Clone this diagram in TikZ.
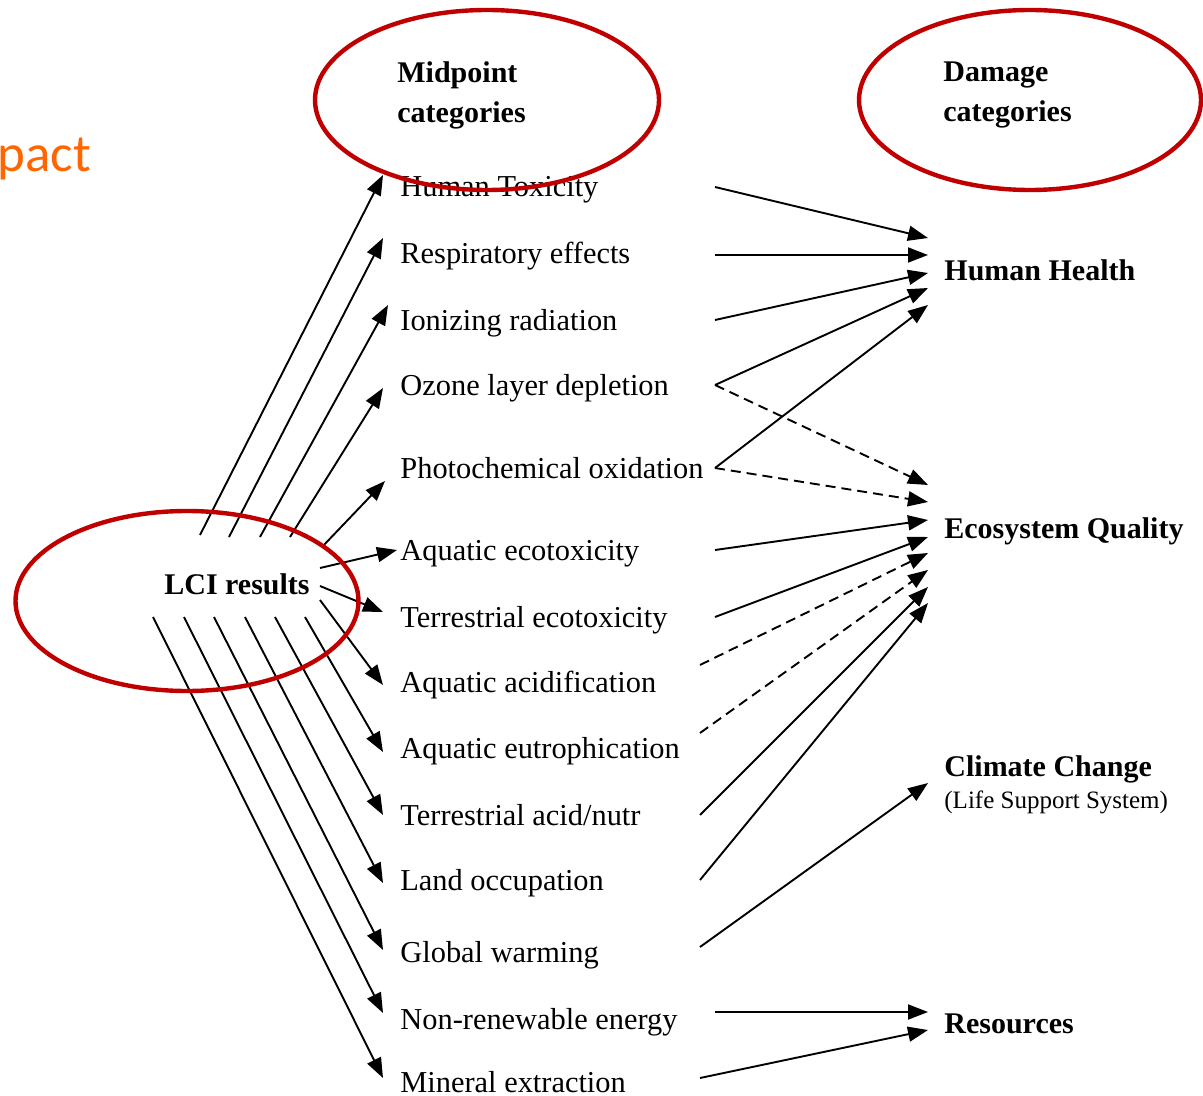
\documentclass[tikz,border=0pt]{standalone}
\usepackage{fontspec}
\setmainfont{Liberation Serif}
\newfontfamily\slidefont{Carlito}
\usetikzlibrary{arrows.meta,positioning}
\definecolor{ringred}{RGB}{192,0,0}
\definecolor{slideorange}{RGB}{255,102,0}

\begin{document}
\begin{tikzpicture}[x=0.5pt,y=-0.5pt,
  mid/.style={anchor=west, inner xsep=8.5pt, inner ysep=0pt, font=\fontsize{15.2}{18}\selectfont, text height=11pt, text depth=3pt},
  dmg/.style={anchor=west, inner sep=0pt, font=\bfseries\fontsize{15}{18}\selectfont, text height=11pt, text depth=3pt},
  hdr/.style={anchor=west, inner sep=0pt, align=left, font=\bfseries\fontsize{15}{20}\selectfont},
  arr/.style={-{Triangle[length=10pt,width=7.5pt]}, line width=0.95pt},
  dsh/.style={arr, dash pattern=on 5pt off 3pt},
  ring/.style={draw=ringred, line width=2.2pt}]
\useasboundingbox (0,0) rectangle (1203,1096);

% slide leftover
\node[anchor=base west, inner sep=0pt, text=slideorange, font=\slidefont\fontsize{26.5}{30}\selectfont] (slide) at (-3,172) {pact};

% column headers
\node[hdr] (midhd) at (397,95) {Midpoint\\categories};
\node[hdr] (dmghd) at (943,95) {Damage\\categories};

% inventory
\node[inner sep=0pt, font=\bfseries\fontsize{15}{18}\selectfont] (lci) at (237,584) {LCI results};

% midpoint categories
\foreach \n/\y/\t in {ht/189/Human Toxicity, re/256/Respiratory effects, ir/322/Ionizing radiation,
  oz/387/Ozone layer depletion, pc/470/Photochemical oxidation, ae/552/Aquatic ecotoxicity,
  te/619/Terrestrial ecotoxicity, aa/684/Aquatic acidification, eu/750/Aquatic eutrophication,
  ta/817/{Terrestrial acid/nutr}, lo/882/Land occupation, gw/954/Global warming,
  nr/1021/Non-renewable energy, me/1084/Mineral extraction}
  \node[mid] (\n) at (383,\y) {\t};

% damage categories
\node[dmg] (hh) at (944,273) {Human Health};
\node[dmg] (eq) at (944,530) {Ecosystem Quality};
\node[dmg] (cc) at (944,768) {Climate Change};
\node[anchor=west, inner sep=0pt, font=\fontsize{12.5}{15}\selectfont] (lss) at (944,802) {(Life Support System)};
\node[dmg] (rs) at (944,1025) {Resources};

% LCI -> midpoints
\foreach \dx/\dy/\t/\tx/\ty in {-37/-49/ht/0/-14, -8/-47/re/0/-18, 23/-47/ir/5/-17, 53/-47/oz/0/1,
  85/-37/pc/2/11, 83/-16/ae/14/-2, 83/2/te/0/-7, 83/16/aa/0/1, 68/33/eu/0/2, 38/33/ta/0/-2,
  8/33/lo/0/1, -23/33/gw/0/-4, -53/33/nr/0/-8, -84/33/me/0/-6}
  \draw[arr] ([shift={(\dx,\dy)}]lci.center) -- ([shift={(\tx,\ty)}]\t.west);

% midpoints -> damage
\foreach \s/\sx/\sy/\d/\ty/\st in {ht/332/-2/hh/-35/arr, re/332/-1/hh/-18/arr, ir/332/-2/hh/0/arr,
  oz/332/-2/hh/15/arr, oz/332/-2/eq/-45/dsh, pc/332/-2/hh/32/arr, pc/332/-2/eq/-28/dsh,
  ae/332/-2/eq/-10/arr, te/332/-2/eq/7/arr, aa/317/-19/eq/23/dsh, eu/317/-17/eq/40/dsh,
  ta/317/-2/eq/57/arr, lo/317/-2/eq/73/arr, gw/317/-7/cc/15/arr, nr/332/-9/rs/-13/arr,
  me/317/-6/rs/5/arr}
  \draw[\st] ([shift={(\sx,\sy)}]\s.west) -- ([shift={(-16,\ty)}]\d.west);

% highlight rings
\draw[ring] (487,100) ellipse [x radius=86pt, y radius=45pt];
\draw[ring] (1030,100) ellipse [x radius=85.5pt, y radius=45pt];
\draw[ring] (187,601) ellipse [x radius=85.75pt, y radius=45pt];
\end{tikzpicture}
\end{document}
